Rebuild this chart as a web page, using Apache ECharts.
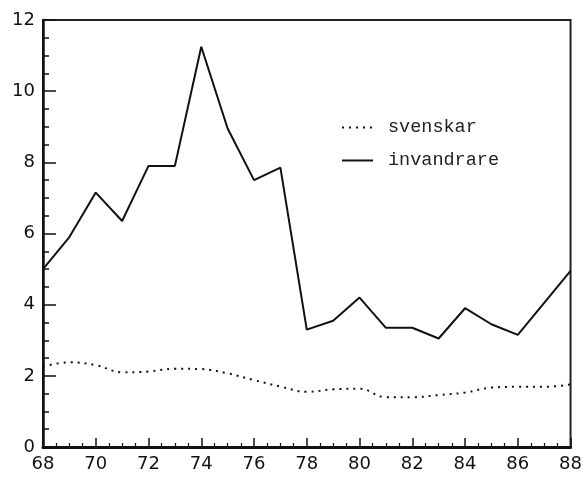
<!DOCTYPE html>
<html>
<head>
<meta charset="utf-8">
<script src="https://cdn.jsdelivr.net/npm/echarts@6/dist/echarts.min.js"></script>
<style>
html, body { margin: 0; padding: 0; background: #fff; }
#chart { width: 585px; height: 477px; }
</style>
</head>
<body>
<div id="chart"></div>
<script>
// years 1968-1988
var years = [68, 69, 70, 71, 72, 73, 74, 75, 76, 77, 78, 79, 80, 81, 82, 83, 84, 85, 86, 87, 88];
var invandrare = [5.0, 5.9, 7.15, 6.35, 7.9, 7.9, 11.25, 8.95, 7.5, 7.85, 3.3, 3.55, 4.2, 3.35, 3.35, 3.05, 3.9, 3.45, 3.15, 4.05, 4.95];
var svenskar = [2.26, 2.38, 2.3, 2.1, 2.12, 2.2, 2.19, 2.07, 1.88, 1.7, 1.55, 1.62, 1.64, 1.4, 1.4, 1.46, 1.53, 1.67, 1.69, 1.69, 1.76];

function pairs(vals)
{
	var out = [];
	for (var i = 0; i < years.length; i++) {
		out.push([years[i], vals[i]]);
	}
	return out;
}

var chart = echarts.init(document.getElementById("chart"));

var axisFont = {
	fontFamily: 'DejaVu Sans',
	fontSize: 18,
	color: '#111'
};

option = {
	animation: false,
	backgroundColor: '#fff',
	grid: {
		left: 43,
		right: 13,
		top: 20,
		bottom: 30,
		show: true,
		borderColor: '#222',
		borderWidth: 2
	},
	legend: {
		orient: 'vertical',
		left: 336,
		top: 113,
		itemWidth: 31,
		itemHeight: 10,
		itemGap: 14,
		itemStyle: { opacity: 0 },
		textStyle: {
			fontFamily: 'Liberation Mono',
			fontSize: 18.5,
			color: '#222',
			padding: [0, 0, 0, 10]
		},
		data: ['svenskar', 'invandrare']
	},
	xAxis: {
		type: 'value',
		min: 68,
		max: 88,
		interval: 2,
		axisLine: { lineStyle: { color: '#111', width: 3 } },
		axisTick: { inside: true, length: 9, lineStyle: { color: '#111', width: 1.5 } },
		minorTick: { show: true, splitNumber: 4, length: 4, lineStyle: { color: '#111', width: 1.2 } },
		axisLabel: Object.assign({ margin: 8 }, axisFont),
		splitLine: { show: false }
	},
	yAxis: {
		type: 'value',
		min: 0,
		max: 12,
		interval: 2,
		axisLine: { show: true, lineStyle: { color: '#111', width: 2.5 } },
		axisTick: { show: true, inside: true, length: 13, lineStyle: { color: '#111', width: 1.5 } },
		minorTick: { show: true, splitNumber: 4, length: 6, lineStyle: { color: '#111', width: 1.5 } },
		axisLabel: Object.assign({ margin: 8 }, axisFont),
		splitLine: { show: false }
	},
	series: [
		{
			name: 'svenskar',
			type: 'line',
			smooth: 0.4,
			symbol: 'none',
			lineStyle: { color: '#111', width: 2, type: [2, 5] },
			itemStyle: { color: '#111' },
			data: pairs(svenskar)
		},
		{
			name: 'invandrare',
			type: 'line',
			symbol: 'none',
			lineStyle: { color: '#111', width: 2 },
			itemStyle: { color: '#111' },
			data: pairs(invandrare)
		}
	]
};

chart.setOption(option);
</script>
</body>
</html>
